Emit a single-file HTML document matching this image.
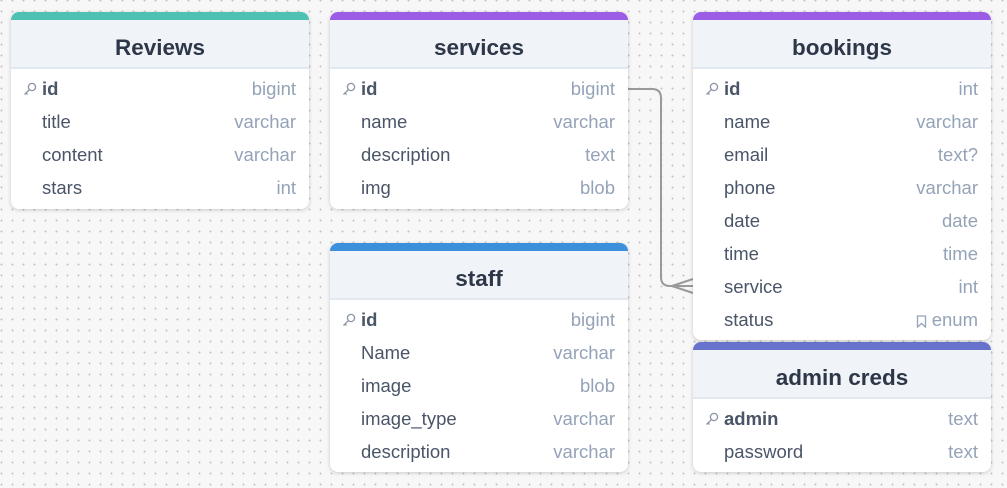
<!DOCTYPE html>
<html><head><meta charset="utf-8"><style>
*{box-sizing:border-box;margin:0;padding:0}
body{width:1007px;height:488px;overflow:hidden;position:relative;background-color:#f7f7f7;
background-image:radial-gradient(circle at 1.5px 1.5px,#c4c4c4 0.8px,transparent 1.1px);background-size:11px 11px;background-position:0 -1px;
font-family:"Liberation Sans",Arial,sans-serif}
.t{position:absolute;width:298px;background:#fff;border-radius:8px;box-shadow:0 1px 4px rgba(0,0,0,.18);overflow:hidden}
.bar{height:8px}
.h{height:49px;background:#f0f4f9;border-bottom:2px solid #e2e8f0;text-align:center;font-weight:bold;font-size:22.5px;color:#2d3748;line-height:55px}
.rows{padding-top:3px}
.r{height:33px;position:relative;font-size:18.5px;line-height:33px;color:#4a5568}
.r .n{position:absolute;left:31px}
.r .ty{position:absolute;right:13px;color:#94a3b8}
.r b{color:#4a5568}
.k{position:absolute;left:12px;top:10px;width:14px;height:14px}
svg.c{position:absolute;left:0;top:0}
</style></head><body>
<svg class="c" width="1007" height="488"><path d="M628 89 H652 Q661 89 661 98 V277 Q661 286 670 286 H693 M672 286 L693 279 M672 286 L693 293" fill="none" stroke="#9a9a9a" stroke-width="2"/></svg>

<div class="t" style="left:11px;top:12px;height:197px">
<div class="bar" style="background:#4fc1b3"></div><div class="h">Reviews</div><div class="rows">
<div class="r"><svg class="k" viewBox="0 0 14 14"><circle cx="9" cy="5" r="3.6" fill="none" stroke="#8a94a6" stroke-width="1.3"/><path d="M6.3 7.7 L1.5 12.5 M3 11 L4.5 12.5" stroke="#8a94a6" stroke-width="1.3"/></svg><span class="n"><b>id</b></span><span class="ty">bigint</span></div>
<div class="r"><span class="n">title</span><span class="ty">varchar</span></div>
<div class="r"><span class="n">content</span><span class="ty">varchar</span></div>
<div class="r"><span class="n">stars</span><span class="ty">int</span></div>
</div></div>

<div class="t" style="left:330px;top:12px;height:197px">
<div class="bar" style="background:#9b5de5"></div><div class="h">services</div><div class="rows">
<div class="r"><svg class="k" viewBox="0 0 14 14"><circle cx="9" cy="5" r="3.6" fill="none" stroke="#8a94a6" stroke-width="1.3"/><path d="M6.3 7.7 L1.5 12.5 M3 11 L4.5 12.5" stroke="#8a94a6" stroke-width="1.3"/></svg><span class="n"><b>id</b></span><span class="ty">bigint</span></div>
<div class="r"><span class="n">name</span><span class="ty">varchar</span></div>
<div class="r"><span class="n">description</span><span class="ty">text</span></div>
<div class="r"><span class="n">img</span><span class="ty">blob</span></div>
</div></div>

<div class="t" style="left:330px;top:243px;height:229px">
<div class="bar" style="background:#3b8fdb"></div><div class="h">staff</div><div class="rows">
<div class="r"><svg class="k" viewBox="0 0 14 14"><circle cx="9" cy="5" r="3.6" fill="none" stroke="#8a94a6" stroke-width="1.3"/><path d="M6.3 7.7 L1.5 12.5 M3 11 L4.5 12.5" stroke="#8a94a6" stroke-width="1.3"/></svg><span class="n"><b>id</b></span><span class="ty">bigint</span></div>
<div class="r"><span class="n">Name</span><span class="ty">varchar</span></div>
<div class="r"><span class="n">image</span><span class="ty">blob</span></div>
<div class="r"><span class="n">image_type</span><span class="ty">varchar</span></div>
<div class="r"><span class="n">description</span><span class="ty">varchar</span></div>
</div></div>

<div class="t" style="left:693px;top:12px;height:328px">
<div class="bar" style="background:#9b5de5"></div><div class="h">bookings</div><div class="rows">
<div class="r"><svg class="k" viewBox="0 0 14 14"><circle cx="9" cy="5" r="3.6" fill="none" stroke="#8a94a6" stroke-width="1.3"/><path d="M6.3 7.7 L1.5 12.5 M3 11 L4.5 12.5" stroke="#8a94a6" stroke-width="1.3"/></svg><span class="n"><b>id</b></span><span class="ty">int</span></div>
<div class="r"><span class="n">name</span><span class="ty">varchar</span></div>
<div class="r"><span class="n">email</span><span class="ty">text?</span></div>
<div class="r"><span class="n">phone</span><span class="ty">varchar</span></div>
<div class="r"><span class="n">date</span><span class="ty">date</span></div>
<div class="r"><span class="n">time</span><span class="ty">time</span></div>
<div class="r"><span class="n">service</span><span class="ty">int</span></div>
<div class="r"><span class="n">status</span><span class="ty"><svg width="11" height="13" viewBox="0 0 11 13" style="vertical-align:-2px;margin-right:5px"><path d="M1.5 1 H9.5 V12 L5.5 8.5 L1.5 12 Z" fill="none" stroke="#94a3b8" stroke-width="1.3"/></svg>enum</span></div>
</div></div>

<div class="t" style="left:693px;top:342px;height:130px">
<div class="bar" style="background:#6672cc"></div><div class="h">admin creds</div><div class="rows">
<div class="r"><svg class="k" viewBox="0 0 14 14"><circle cx="9" cy="5" r="3.6" fill="none" stroke="#8a94a6" stroke-width="1.3"/><path d="M6.3 7.7 L1.5 12.5 M3 11 L4.5 12.5" stroke="#8a94a6" stroke-width="1.3"/></svg><span class="n"><b>admin</b></span><span class="ty">text</span></div>
<div class="r"><span class="n">password</span><span class="ty">text</span></div>
</div></div>
</body></html>
